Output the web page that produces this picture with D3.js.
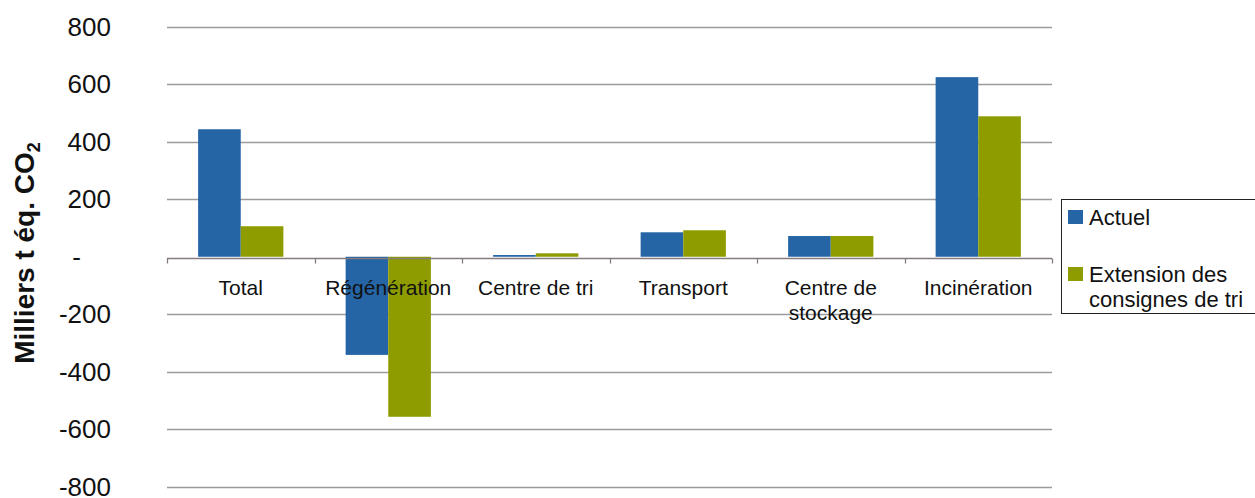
<!DOCTYPE html>
<html>
<head>
<meta charset="utf-8">
<script src="https://cdn.jsdelivr.net/npm/d3@7"></script>
<style>
  body { margin: 0; background: #fff; }
  svg { font-family: "Liberation Sans", Arial, sans-serif; }
</style>
</head>
<body>
<div class="chart"></div>
<script>
// data
const categories = ["Total", "Régénération", "Centre de tri", "Transport", "Centre de stockage", "Incinération"];
const catLines = [["Total"], ["Régénération"], ["Centre de tri"], ["Transport"], ["Centre de", "stockage"], ["Incinération"]];
const seriesNames = ["Actuel", "Extension des consignes de tri"];
const actuel = [443, -341, 6, 85, 72, 624];
const extension = [106, -556, 12, 92, 72, 488];
const yTicks = [-800, -600, -400, -200, 0, 200, 400, 600, 800];

const w = 1255;
const h = 498;
const colors = ["#2565a6", "#8e9c00"];

const svg = d3.select(".chart")
  .append("svg")
  .attr("width", w)
  .attr("height", h);

const x0 = d3.scaleBand()
  .domain(categories)
  .range([167, 1052])
  .paddingInner(0)
  .paddingOuter(0);

const x1 = d3.scaleBand()
  .domain(seriesNames)
  .range([0, x0.bandwidth()])
  .paddingInner(0)
  .paddingOuter(0.73);

const y = d3.scaleLinear()
  .domain([-800, 800])
  .range([487, 26.5]);

// gridlines
svg.append("g")
  .selectAll("line")
  .data(yTicks.filter(d => d !== 0))
  .enter()
  .append("line")
  .attr("x1", 167)
  .attr("x2", 1052)
  .attr("y1", d => Math.round(y(d)) + 0.5)
  .attr("y2", d => Math.round(y(d)) + 0.5)
  .attr("stroke", "#9b9b9b")
  .attr("stroke-width", 1.3);

// y tick labels
svg.append("g")
  .selectAll("text")
  .data(yTicks)
  .enter()
  .append("text")
  .attr("x", d => d === 0 ? 81 : 111)
  .attr("y", d => y(d) + 9)
  .attr("text-anchor", "end")
  .attr("font-size", 26)
  .attr("fill", "#111")
  .text(d => d === 0 ? "-" : d);

// bars
const rows = categories.map((c, i) => ({ cat: c, vals: [actuel[i], extension[i]] }));

const groups = svg.append("g")
  .selectAll("g")
  .data(rows)
  .enter()
  .append("g")
  .attr("transform", d => `translate(${x0(d.cat)},0)`);

groups.selectAll("rect")
  .data(d => d.vals.map((v, j) => ({ name: seriesNames[j], v: v, j: j })))
  .enter()
  .append("rect")
  .attr("x", d => x1(d.name))
  .attr("width", x1.bandwidth())
  .attr("y", d => y(Math.max(0, d.v)))
  .attr("height", d => Math.abs(y(d.v) - y(0)))
  .attr("fill", d => colors[d.j]);

// zero axis with ticks
const zeroY = Math.round(y(0)) + 1.5;
svg.append("line")
  .attr("x1", 167)
  .attr("x2", 1052)
  .attr("y1", zeroY)
  .attr("y2", zeroY)
  .attr("stroke", "#857b7c")
  .attr("stroke-width", 1.5);

svg.append("g")
  .selectAll("line")
  .data(d3.range(categories.length + 1))
  .enter()
  .append("line")
  .attr("x1", i => Math.round(167 + i * x0.bandwidth()) + 0.5)
  .attr("x2", i => Math.round(167 + i * x0.bandwidth()) + 0.5)
  .attr("y1", zeroY)
  .attr("y2", zeroY + 5)
  .attr("stroke", "#857b7c")
  .attr("stroke-width", 1.3);

// category labels
svg.append("g")
  .selectAll("text")
  .data(categories)
  .enter()
  .append("text")
  .attr("x", d => x0(d) + x0.bandwidth() / 2)
  .attr("y", 295)
  .attr("text-anchor", "middle")
  .attr("font-size", 21)
  .attr("fill", "#111")
  .each(function (d, i) {
    d3.select(this).selectAll("tspan")
      .data(catLines[i])
      .enter()
      .append("tspan")
      .attr("x", x0(d) + x0.bandwidth() / 2)
      .attr("dy", (t, k) => k === 0 ? 0 : 25)
      .text(t => t);
  });

// y axis title
const title = svg.append("text")
  .attr("transform", "translate(34," + 253 + ")rotate(-90)")
  .attr("text-anchor", "middle")
  .attr("font-size", 28)
  .attr("font-weight", "bold")
  .attr("fill", "#111");
title.append("tspan").text("Milliers t éq. CO");
title.append("tspan").attr("font-size", 18).attr("dy", 6).text("2");

// legend
const legend = svg.append("g");
legend.append("rect")
  .attr("x", 1061.5)
  .attr("y", 199.5)
  .attr("width", 220)
  .attr("height", 114)
  .attr("fill", "#fff")
  .attr("stroke", "#222")
  .attr("stroke-width", 1);

const legendItems = [["Actuel"], ["Extension des", "consignes de tri"]];
const legendY = [210, 267];
legendItems.forEach((lines, i) => {
  legend.append("rect")
    .attr("x", 1068)
    .attr("y", legendY[i])
    .attr("width", 15)
    .attr("height", 14)
    .attr("fill", colors[i]);
  const t = legend.append("text")
    .attr("x", 1089)
    .attr("y", legendY[i] + 15)
    .attr("font-size", 22)
    .attr("fill", "#111");
  t.selectAll("tspan")
    .data(lines)
    .enter()
    .append("tspan")
    .attr("x", 1089)
    .attr("dy", (d, k) => k === 0 ? 0 : 25)
    .text(d => d);
});
</script>
</body>
</html>
